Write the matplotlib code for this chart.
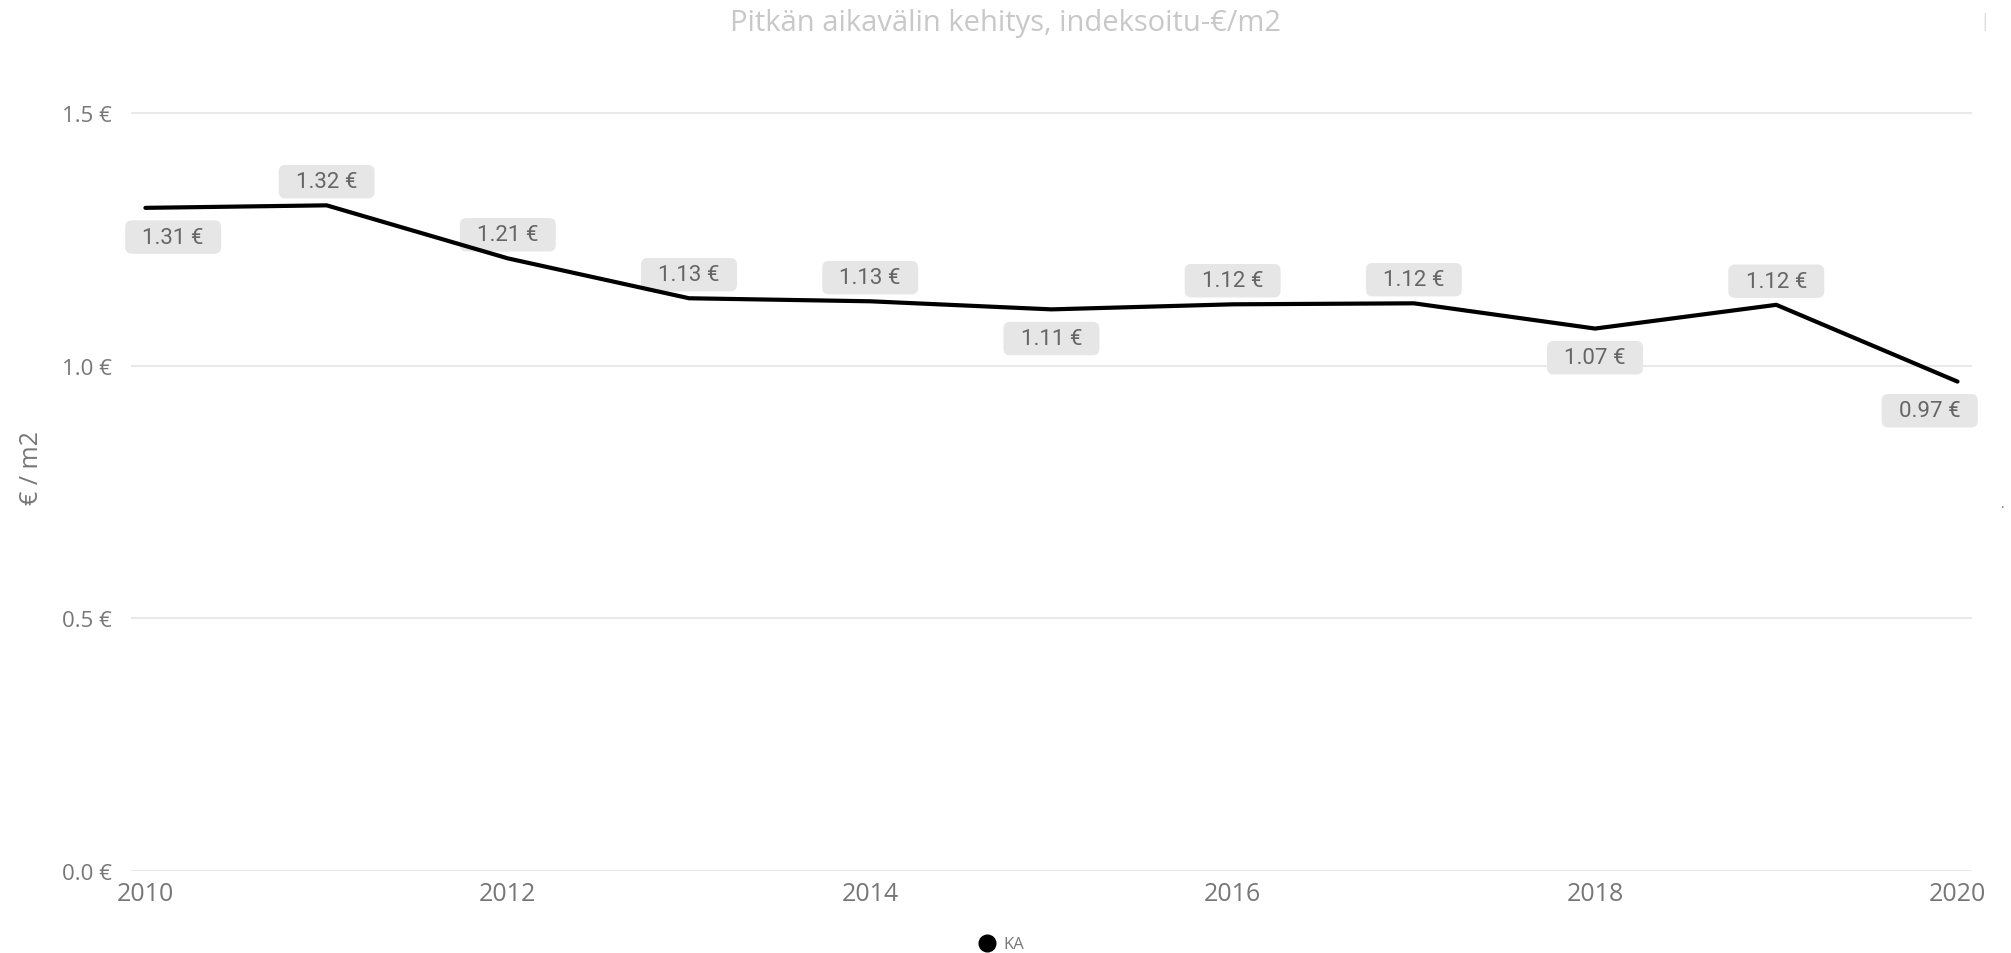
#%% imports

import matplotlib.pyplot as plt
from matplotlib.lines import Line2D

#%% data

years = [2010, 2011, 2012, 2013, 2014, 2015, 2016, 2017, 2018, 2019, 2020]
values = [1.313, 1.318, 1.213, 1.134, 1.128, 1.112, 1.122, 1.124, 1.074, 1.121, 0.969]
# label above (+1) or below (-1) the point
label_side = [-1, 1, 1, 1, 1, -1, 1, 1, -1, 1, -1]
y_ticks = [0.0, 0.5, 1.0, 1.5]
x_ticks = [2010, 2012, 2014, 2016, 2018, 2020]

#%% plot

plt.rcParams['font.family'] = ['Open Sans', 'DejaVu Sans']

fig = plt.figure(figsize=(20.11, 9.54), dpi=100)
ax = fig.add_axes([0.0651, 0.086, 0.9155, 0.847])

ax.plot(years, values, color='black', lw=3, solid_capstyle='round', zorder=5)

n = len(years)
for i, (x, v, s) in enumerate(zip(years, values, label_side)):
    # first and last labels are kept inside the plot area
    dx = 20 if i == 0 else (-20 if i == n - 1 else 0)
    dy = 17 if s > 0 else -21
    ax.annotate(f'  {v:.2f} €  ', (x, v), xytext=(dx, dy), textcoords='offset points',
                ha='center', va='center', fontsize=16, color='#666666', family='Roboto',
                bbox=dict(boxstyle='round,pad=0.28,rounding_size=0.3', fc='#e6e6e6', ec='none'),
                zorder=4)

ax.set_xlim(2009.92, 2020.08)
ax.set_ylim(0, 1.6)
ax.set_yticks(y_ticks)
ax.set_yticklabels([f'{t:.1f} €' for t in y_ticks])
ax.set_xticks(x_ticks)
ax.tick_params(axis='y', length=0, pad=14, labelsize=16, labelcolor='#777777')
ax.tick_params(axis='x', length=0, pad=7, labelsize=18, labelcolor='#777777')
ax.grid(axis='y', color='#e9e9e9', lw=1.5)
ax.set_axisbelow(True)
for sp in ax.spines.values():
    sp.set_visible(False)

ax.set_ylabel('€ / m2', fontsize=18, color='#777777')
ax.yaxis.set_label_coords(-0.047, 0.5)

fig.text(0.5, 0.975, 'Pitkän aikavälin kehitys, indeksoitu-€/m2', ha='center', va='center',
         fontsize=21, color='#c8c8c8')

handle = Line2D([], [], marker='o', color='black', ls='none', markersize=12)
fig.legend([handle], ['KA'], loc='center', bbox_to_anchor=(0.496, 0.009), frameon=False,
           fontsize=12, labelcolor='#777777', handletextpad=0.0, borderaxespad=0)

fig.text(0.996, 0.468, '.', fontsize=10, color='#777777', ha='center')
fig.text(0.987, 0.977, '|', fontsize=14, color='#dddddd', ha='center', va='center')

fig.savefig('out.png', dpi=100, facecolor='white')
